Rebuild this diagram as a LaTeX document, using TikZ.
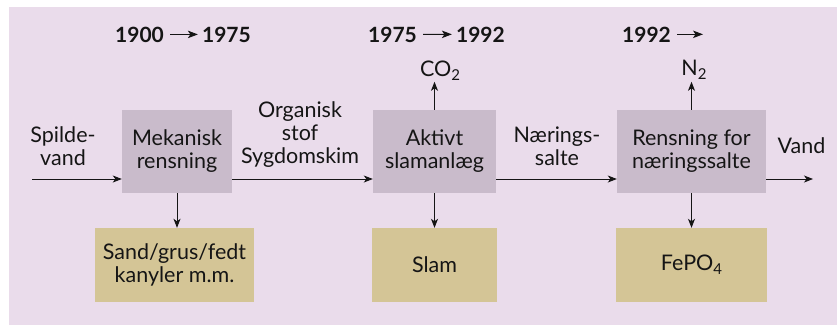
\documentclass[tikz,border=0pt]{standalone}
\usepackage{fontspec}
\setmainfont{Lato}
\usetikzlibrary{arrows.meta}
\newcommand{\lowidx}[1]{\raisebox{-0.4ex}{\fontsize{15}{15}\selectfont #1}}
\definecolor{bgpurple}{HTML}{EADCEB}
\definecolor{procgrey}{HTML}{C9BBCB}
\definecolor{outtan}{HTML}{D4C596}
\definecolor{inkdark}{HTML}{151515}
\begin{document}
\begin{tikzpicture}[x=1pt,y=-1pt,
  every node/.style={inner sep=0pt, text=inkdark},
  txt/.style={font=\fontsize{21.5}{23}\selectfont, align=center},
  year/.style={font=\fontsize{21}{23}\selectfont\bfseries},
  proc/.style={fill=procgrey, txt},
  outbox/.style={fill=outtan, txt},
  flow/.style={draw=inkdark, line width=0.9pt, -{Stealth[length=9pt,width=7pt,inset=2.5pt]}},
  yarrow/.style={draw=inkdark, line width=1pt, -{Stealth[length=10pt,width=7.5pt,inset=2.5pt]}}
]
\useasboundingbox (0,0) rectangle (837,325);
\fill[bgpurple] (9,7) rectangle (837,325);

% process boxes
\node[proc, minimum width=110pt, minimum height=83pt] (mek) at (177,151.5) {Mekanisk\\rensning};
\node[proc, minimum width=123pt, minimum height=83pt] (akt) at (434.5,151.5) {Aktivt\\slamanlæg};
\node[proc, minimum width=149pt, minimum height=83pt] (ren) at (691.5,151.5) {Rensning for\\næringssalte};

% output boxes
\node[outbox, minimum width=159pt, minimum height=74pt] (sand) at (174.5,265) {Sand/grus/fedt\\kanyler m.m.};
\node[outbox, minimum width=125pt, minimum height=74pt] (slam) at (434.5,265) {Slam};
\node[outbox, minimum width=151pt, minimum height=74pt] (fepo) at (691.5,265) {FePO\lowidx{4}};

% gases
\node[txt, anchor=base] (co2) at (440,76) {CO\lowidx{2}};
\node[txt, anchor=base] (n2) at (694,75) {N\lowidx{2}};

% flow labels
\node[txt] (spv) at (63,146) {Spilde-\\vand};
\node[txt] (org) at (300,135) {Organisk\\stof\\Sygdomskim};
\node[txt] (nae) at (557,146) {Nærings-\\salte};
\node[txt, anchor=base] (vnd) at (801.5,153) {Vand};

% main flow line
\coordinate (in) at (32,179);
\coordinate (out) at (813,179);
\draw[flow] (in) -- (mek.west |- in);
\draw[flow] (mek.east |- in) -- (akt.west |- in);
\draw[flow] (akt.east |- in) -- (ren.west |- in);
\draw[flow] (ren.east |- in) -- (out);

% branches
\draw[flow] (mek.south) -- (mek.south |- sand.north);
\draw[flow] (akt.south) -- (akt.south |- slam.north);
\draw[flow] (ren.south) -- (ren.south |- fepo.north);
\draw[flow] (akt.north) -- ++(0,-28);
\draw[flow] (ren.north) -- ++(0,-28);

% period headings
\node[year, anchor=base west] (y1a) at (115,42) {1900};
\node[year, anchor=base east] (y1b) at (251,42) {1975};
\node[year, anchor=base west] (y2a) at (368,42) {1975};
\node[year, anchor=base east] (y2b) at (505,42) {1992};
\node[year, anchor=base west] (y3a) at (622,42) {1992};
\coordinate (y3end) at (703,34.5);
\draw[yarrow] ([xshift=6pt]y1a.east) -- ([xshift=-4pt]y1b.west);
\draw[yarrow] ([xshift=6pt]y2a.east) -- ([xshift=-4pt]y2b.west);
\draw[yarrow] ([xshift=6pt]y3a.east) -- (y3a.east -| y3end);
\end{tikzpicture}
\end{document}
